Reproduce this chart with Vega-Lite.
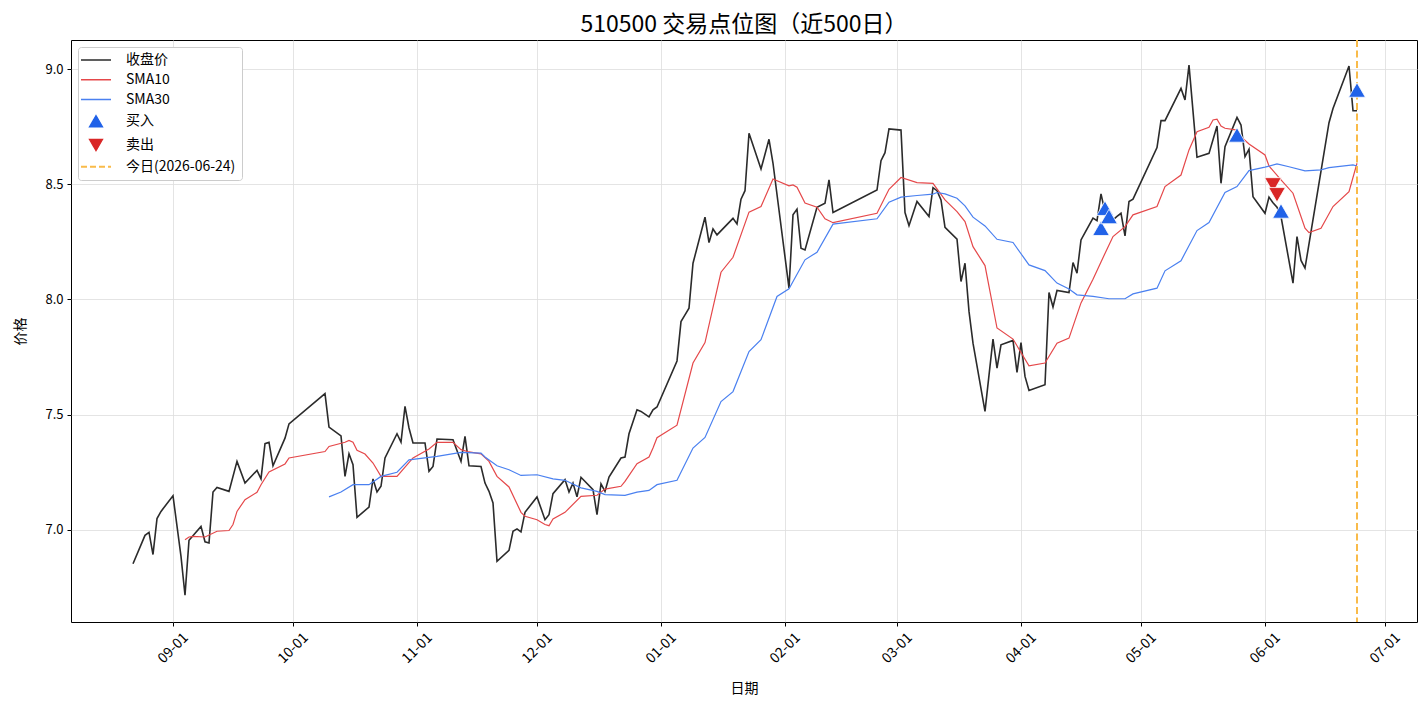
{
  "$schema": "https://vega.github.io/schema/vega-lite/v6.json",
  "width": 1346,
  "height": 582,
  "autosize": {"type": "none"},
  "padding": {"left": 71, "top": 40, "right": 11, "bottom": 84},
  "background": "white",
  "config": {
    "font": "Noto Sans CJK SC",
    "view": {"stroke": "black", "strokeWidth": 1},
    "axis": {
      "domain": false,
      "gridColor": "#dddddd",
      "gridWidth": 0.8,
      "tickColor": "black",
      "tickSize": 4,
      "labelColor": "black",
      "labelFontSize": 13,
      "titleFontSize": 14,
      "titleFontWeight": "normal",
      "titleColor": "black"
    },
    "legend": {
      "orient": "top-left",
      "offset": 7,
      "padding": 6,
      "fillColor": "white",
      "strokeColor": "#cccccc",
      "cornerRadius": 3,
      "labelFontSize": 14,
      "labelColor": "black",
      "symbolSize": 900,
      "symbolOffset": 5,
      "rowPadding": 5.75,
      "labelOffset": 23
    }
  },
  "title": {
    "text": "510500 交易点位图（近500日）",
    "fontSize": 23,
    "fontWeight": "normal",
    "color": "black",
    "frame": "group",
    "offset": 2
  },
  "datasets": {
    "close": [
      {"d":"2025-08-22","v":6.853},{"d":"2025-08-25","v":6.976},{"d":"2025-08-26","v":6.989},{"d":"2025-08-27","v":6.893},{"d":"2025-08-28","v":7.049},{"d":"2025-08-29","v":7.080},
      {"d":"2025-09-01","v":7.148},{"d":"2025-09-03","v":6.885},{"d":"2025-09-04","v":6.716},{"d":"2025-09-05","v":6.955},{"d":"2025-09-08","v":7.015},{"d":"2025-09-09","v":6.948},{"d":"2025-09-10","v":6.943},{"d":"2025-09-11","v":7.164},{"d":"2025-09-12","v":7.184},{"d":"2025-09-15","v":7.167},{"d":"2025-09-17","v":7.297},{"d":"2025-09-19","v":7.203},{"d":"2025-09-22","v":7.258},{"d":"2025-09-23","v":7.221},{"d":"2025-09-24","v":7.374},{"d":"2025-09-25","v":7.380},{"d":"2025-09-26","v":7.278},{"d":"2025-09-29","v":7.398},{"d":"2025-09-30","v":7.460},
      {"d":"2025-10-09","v":7.591},{"d":"2025-10-10","v":7.446},{"d":"2025-10-13","v":7.408},{"d":"2025-10-14","v":7.232},{"d":"2025-10-15","v":7.330},{"d":"2025-10-16","v":7.283},{"d":"2025-10-17","v":7.054},{"d":"2025-10-20","v":7.099},{"d":"2025-10-21","v":7.221},{"d":"2025-10-22","v":7.164},{"d":"2025-10-23","v":7.189},{"d":"2025-10-24","v":7.312},{"d":"2025-10-27","v":7.417},{"d":"2025-10-28","v":7.381},{"d":"2025-10-29","v":7.536},{"d":"2025-10-30","v":7.442},{"d":"2025-10-31","v":7.377},
      {"d":"2025-11-03","v":7.377},{"d":"2025-11-04","v":7.254},{"d":"2025-11-05","v":7.275},{"d":"2025-11-06","v":7.394},{"d":"2025-11-10","v":7.391},{"d":"2025-11-12","v":7.297},{"d":"2025-11-13","v":7.406},{"d":"2025-11-14","v":7.278},{"d":"2025-11-17","v":7.275},{"d":"2025-11-18","v":7.203},{"d":"2025-11-19","v":7.167},{"d":"2025-11-20","v":7.117},{"d":"2025-11-21","v":6.863},{"d":"2025-11-24","v":6.911},{"d":"2025-11-25","v":6.994},{"d":"2025-11-26","v":7.004},{"d":"2025-11-27","v":6.991},{"d":"2025-11-28","v":7.076},
      {"d":"2025-12-01","v":7.143},{"d":"2025-12-03","v":7.044},{"d":"2025-12-04","v":7.066},{"d":"2025-12-05","v":7.157},{"d":"2025-12-08","v":7.218},{"d":"2025-12-09","v":7.164},{"d":"2025-12-10","v":7.203},{"d":"2025-12-11","v":7.143},{"d":"2025-12-12","v":7.228},{"d":"2025-12-15","v":7.174},{"d":"2025-12-16","v":7.066},{"d":"2025-12-17","v":7.200},{"d":"2025-12-18","v":7.167},{"d":"2025-12-19","v":7.229},{"d":"2025-12-22","v":7.312},{"d":"2025-12-23","v":7.316},{"d":"2025-12-24","v":7.417},{"d":"2025-12-26","v":7.521},{"d":"2025-12-27","v":7.514},{"d":"2025-12-29","v":7.490},{"d":"2025-12-30","v":7.521},{"d":"2025-12-31","v":7.533},
      {"d":"2026-01-05","v":7.733},{"d":"2026-01-06","v":7.904},{"d":"2026-01-07","v":7.933},{"d":"2026-01-08","v":7.962},{"d":"2026-01-09","v":8.157},{"d":"2026-01-12","v":8.357},{"d":"2026-01-13","v":8.247},{"d":"2026-01-14","v":8.306},{"d":"2026-01-15","v":8.280},{"d":"2026-01-19","v":8.352},{"d":"2026-01-20","v":8.328},{"d":"2026-01-21","v":8.435},{"d":"2026-01-22","v":8.472},{"d":"2026-01-23","v":8.721},{"d":"2026-01-26","v":8.566},{"d":"2026-01-28","v":8.695},{"d":"2026-01-29","v":8.591},
      {"d":"2026-02-02","v":8.049},{"d":"2026-02-03","v":8.367},{"d":"2026-02-04","v":8.392},{"d":"2026-02-05","v":8.222},{"d":"2026-02-06","v":8.215},{"d":"2026-02-09","v":8.400},{"d":"2026-02-11","v":8.418},{"d":"2026-02-12","v":8.519},{"d":"2026-02-13","v":8.377},{"d":"2026-02-24","v":8.475},{"d":"2026-02-25","v":8.602},{"d":"2026-02-26","v":8.637},{"d":"2026-02-27","v":8.740},
      {"d":"2026-03-02","v":8.735},{"d":"2026-03-03","v":8.377},{"d":"2026-03-04","v":8.320},{"d":"2026-03-06","v":8.425},{"d":"2026-03-09","v":8.360},{"d":"2026-03-10","v":8.485},{"d":"2026-03-11","v":8.472},{"d":"2026-03-12","v":8.432},{"d":"2026-03-13","v":8.313},{"d":"2026-03-16","v":8.262},{"d":"2026-03-17","v":8.078},{"d":"2026-03-18","v":8.157},{"d":"2026-03-19","v":7.948},{"d":"2026-03-20","v":7.810},{"d":"2026-03-23","v":7.514},{"d":"2026-03-25","v":7.828},{"d":"2026-03-26","v":7.702},{"d":"2026-03-27","v":7.803},{"d":"2026-03-30","v":7.822},{"d":"2026-03-31","v":7.683},
      {"d":"2026-04-01","v":7.813},{"d":"2026-04-02","v":7.666},{"d":"2026-04-03","v":7.605},{"d":"2026-04-07","v":7.630},{"d":"2026-04-08","v":8.030},{"d":"2026-04-09","v":7.967},{"d":"2026-04-10","v":8.039},{"d":"2026-04-13","v":8.030},{"d":"2026-04-14","v":8.160},{"d":"2026-04-15","v":8.114},{"d":"2026-04-16","v":8.258},{"d":"2026-04-17","v":8.290},{"d":"2026-04-19","v":8.353},{"d":"2026-04-20","v":8.342},{"d":"2026-04-21","v":8.458},{"d":"2026-04-22","v":8.380},{"d":"2026-04-23","v":8.360},{"d":"2026-04-24","v":8.345},{"d":"2026-04-25","v":8.360},{"d":"2026-04-26","v":8.374},{"d":"2026-04-27","v":8.276},{"d":"2026-04-28","v":8.425},{"d":"2026-04-29","v":8.435},
      {"d":"2026-05-05","v":8.659},{"d":"2026-05-06","v":8.776},{"d":"2026-05-07","v":8.776},{"d":"2026-05-11","v":8.916},{"d":"2026-05-12","v":8.866},{"d":"2026-05-13","v":9.017},{"d":"2026-05-15","v":8.617},{"d":"2026-05-18","v":8.634},{"d":"2026-05-20","v":8.753},{"d":"2026-05-21","v":8.504},{"d":"2026-05-22","v":8.663},{"d":"2026-05-25","v":8.790},{"d":"2026-05-26","v":8.757},{"d":"2026-05-27","v":8.620},{"d":"2026-05-28","v":8.652},{"d":"2026-05-29","v":8.446},
      {"d":"2026-06-01","v":8.374},{"d":"2026-06-02","v":8.444},{"d":"2026-06-03","v":8.420},{"d":"2026-06-04","v":8.400},{"d":"2026-06-05","v":8.360},{"d":"2026-06-08","v":8.071},{"d":"2026-06-09","v":8.273},{"d":"2026-06-10","v":8.169},{"d":"2026-06-11","v":8.136},{"d":"2026-06-17","v":8.767},{"d":"2026-06-18","v":8.829},{"d":"2026-06-22","v":9.013},{"d":"2026-06-23","v":8.819},{"d":"2026-06-24","v":8.819}
    ],
    "sma10": [
      {"d":"2025-09-04","v":6.957},{"d":"2025-09-05","v":6.969},{"d":"2025-09-06","v":6.972},{"d":"2025-09-09","v":6.969},{"d":"2025-09-12","v":6.994},{"d":"2025-09-15","v":6.997},{"d":"2025-09-16","v":7.023},{"d":"2025-09-17","v":7.080},{"d":"2025-09-19","v":7.131},{"d":"2025-09-22","v":7.163},{"d":"2025-09-23","v":7.196},{"d":"2025-09-25","v":7.251},{"d":"2025-09-29","v":7.286},{"d":"2025-09-30","v":7.312},
      {"d":"2025-10-09","v":7.340},{"d":"2025-10-10","v":7.362},{"d":"2025-10-14","v":7.380},{"d":"2025-10-15","v":7.388},{"d":"2025-10-16","v":7.380},{"d":"2025-10-17","v":7.345},{"d":"2025-10-19","v":7.329},{"d":"2025-10-21","v":7.290},{"d":"2025-10-23","v":7.232},{"d":"2025-10-27","v":7.232},{"d":"2025-10-31","v":7.312},
      {"d":"2025-11-04","v":7.351},{"d":"2025-11-06","v":7.380},{"d":"2025-11-10","v":7.380},{"d":"2025-11-12","v":7.348},{"d":"2025-11-14","v":7.338},{"d":"2025-11-17","v":7.330},{"d":"2025-11-19","v":7.297},{"d":"2025-11-21","v":7.232},{"d":"2025-11-24","v":7.186},{"d":"2025-11-27","v":7.076},{"d":"2025-11-28","v":7.059},
      {"d":"2025-12-01","v":7.044},{"d":"2025-12-03","v":7.023},{"d":"2025-12-04","v":7.018},{"d":"2025-12-05","v":7.047},{"d":"2025-12-08","v":7.076},{"d":"2025-12-12","v":7.145},{"d":"2025-12-16","v":7.150},{"d":"2025-12-18","v":7.177},{"d":"2025-12-22","v":7.189},{"d":"2025-12-23","v":7.210},{"d":"2025-12-26","v":7.287},{"d":"2025-12-29","v":7.316},{"d":"2025-12-30","v":7.355},{"d":"2025-12-31","v":7.400},
      {"d":"2026-01-05","v":7.454},{"d":"2026-01-09","v":7.724},{"d":"2026-01-12","v":7.813},{"d":"2026-01-16","v":8.118},{"d":"2026-01-19","v":8.183},{"d":"2026-01-23","v":8.379},{"d":"2026-01-26","v":8.403},{"d":"2026-01-29","v":8.523},
      {"d":"2026-02-02","v":8.493},{"d":"2026-02-03","v":8.497},{"d":"2026-02-04","v":8.487},{"d":"2026-02-06","v":8.418},{"d":"2026-02-09","v":8.400},{"d":"2026-02-11","v":8.350},{"d":"2026-02-13","v":8.333},{"d":"2026-02-24","v":8.374},{"d":"2026-02-27","v":8.478},
      {"d":"2026-03-02","v":8.529},{"d":"2026-03-06","v":8.507},{"d":"2026-03-10","v":8.504},{"d":"2026-03-13","v":8.432},{"d":"2026-03-16","v":8.381},{"d":"2026-03-18","v":8.338},{"d":"2026-03-20","v":8.229},{"d":"2026-03-23","v":8.147},{"d":"2026-03-26","v":7.876},{"d":"2026-03-30","v":7.828},
      {"d":"2026-04-03","v":7.712},{"d":"2026-04-07","v":7.724},{"d":"2026-04-10","v":7.810},{"d":"2026-04-13","v":7.832},{"d":"2026-04-16","v":7.985},{"d":"2026-04-19","v":8.088},{"d":"2026-04-21","v":8.163},{"d":"2026-04-24","v":8.273},{"d":"2026-04-27","v":8.316},{"d":"2026-04-29","v":8.367},
      {"d":"2026-05-05","v":8.403},{"d":"2026-05-07","v":8.490},{"d":"2026-05-11","v":8.540},{"d":"2026-05-13","v":8.649},{"d":"2026-05-15","v":8.728},{"d":"2026-05-18","v":8.747},{"d":"2026-05-19","v":8.779},{"d":"2026-05-20","v":8.782},{"d":"2026-05-21","v":8.753},{"d":"2026-05-22","v":8.743},{"d":"2026-05-25","v":8.735},{"d":"2026-05-26","v":8.706},{"d":"2026-05-28","v":8.675},
      {"d":"2026-06-01","v":8.627},{"d":"2026-06-02","v":8.579},{"d":"2026-06-05","v":8.519},{"d":"2026-06-08","v":8.461},{"d":"2026-06-11","v":8.309},{"d":"2026-06-12","v":8.290},{"d":"2026-06-15","v":8.309},{"d":"2026-06-18","v":8.403},{"d":"2026-06-22","v":8.468},{"d":"2026-06-24","v":8.591}
    ],
    "sma30": [
      {"d":"2025-10-10","v":7.143},{"d":"2025-10-13","v":7.164},{"d":"2025-10-16","v":7.196},{"d":"2025-10-20","v":7.196},{"d":"2025-10-23","v":7.232},{"d":"2025-10-27","v":7.250},{"d":"2025-10-30","v":7.304},
      {"d":"2025-11-06","v":7.319},{"d":"2025-11-12","v":7.336},{"d":"2025-11-17","v":7.333},{"d":"2025-11-18","v":7.316},{"d":"2025-11-21","v":7.278},{"d":"2025-11-24","v":7.261},{"d":"2025-11-27","v":7.236},
      {"d":"2025-12-01","v":7.239},{"d":"2025-12-05","v":7.221},{"d":"2025-12-08","v":7.215},{"d":"2025-12-12","v":7.182},{"d":"2025-12-16","v":7.167},{"d":"2025-12-18","v":7.153},{"d":"2025-12-23","v":7.150},{"d":"2025-12-26","v":7.164},{"d":"2025-12-29","v":7.171},{"d":"2025-12-31","v":7.196},
      {"d":"2026-01-05","v":7.215},{"d":"2026-01-09","v":7.355},{"d":"2026-01-12","v":7.401},{"d":"2026-01-16","v":7.557},{"d":"2026-01-19","v":7.600},{"d":"2026-01-23","v":7.774},{"d":"2026-01-26","v":7.825},{"d":"2026-01-30","v":8.013},
      {"d":"2026-02-02","v":8.046},{"d":"2026-02-06","v":8.172},{"d":"2026-02-09","v":8.205},{"d":"2026-02-13","v":8.327},{"d":"2026-02-24","v":8.350},{"d":"2026-02-27","v":8.422},
      {"d":"2026-03-02","v":8.444},{"d":"2026-03-06","v":8.451},{"d":"2026-03-10","v":8.457},{"d":"2026-03-11","v":8.464},{"d":"2026-03-13","v":8.458},{"d":"2026-03-16","v":8.439},{"d":"2026-03-18","v":8.406},{"d":"2026-03-20","v":8.357},{"d":"2026-03-23","v":8.319},{"d":"2026-03-26","v":8.261},{"d":"2026-03-30","v":8.247},
      {"d":"2026-04-03","v":8.150},{"d":"2026-04-07","v":8.125},{"d":"2026-04-10","v":8.071},{"d":"2026-04-13","v":8.045},{"d":"2026-04-15","v":8.020},{"d":"2026-04-19","v":8.013},{"d":"2026-04-23","v":8.003},{"d":"2026-04-27","v":8.003},{"d":"2026-04-29","v":8.024},
      {"d":"2026-05-05","v":8.049},{"d":"2026-05-07","v":8.124},{"d":"2026-05-11","v":8.168},{"d":"2026-05-15","v":8.299},{"d":"2026-05-18","v":8.334},{"d":"2026-05-22","v":8.464},{"d":"2026-05-25","v":8.490},{"d":"2026-05-28","v":8.559},
      {"d":"2026-06-01","v":8.574},{"d":"2026-06-04","v":8.588},{"d":"2026-06-07","v":8.576},{"d":"2026-06-11","v":8.558},{"d":"2026-06-15","v":8.562},{"d":"2026-06-17","v":8.572},{"d":"2026-06-23","v":8.584},{"d":"2026-06-24","v":8.579}
    ],
    "buy": [
      {"d":"2026-04-21","v":8.309},{"d":"2026-04-22","v":8.396},{"d":"2026-04-23","v":8.360},{"d":"2026-05-25","v":8.714},{"d":"2026-06-05","v":8.384},{"d":"2026-06-24","v":8.909}
    ],
    "sell": [
      {"d":"2026-06-03","v":8.497},{"d":"2026-06-04","v":8.454}
    ],
    "today": [
      {"d":"2026-06-24"}
    ]
  },
  "encoding": {
    "x": {
      "field": "d",
      "type": "temporal",
      "scale": {
        "type": "utc",
        "domain": [
          {"year": 2025, "month": 8, "date": 6, "hours": 12, "utc": true},
          {"year": 2026, "month": 7, "date": 9, "utc": true}
        ]
      },
      "axis": {
        "title": "日期",
        "labelExpr": "utcFormat(datum.value, '%m-%d')",
        "values": [
          {"year": 2025, "month": 9, "date": 1, "utc": true},
          {"year": 2025, "month": 10, "date": 1, "utc": true},
          {"year": 2025, "month": 11, "date": 1, "utc": true},
          {"year": 2025, "month": 12, "date": 1, "utc": true},
          {"year": 2026, "month": 1, "date": 1, "utc": true},
          {"year": 2026, "month": 2, "date": 1, "utc": true},
          {"year": 2026, "month": 3, "date": 1, "utc": true},
          {"year": 2026, "month": 4, "date": 1, "utc": true},
          {"year": 2026, "month": 5, "date": 1, "utc": true},
          {"year": 2026, "month": 6, "date": 1, "utc": true},
          {"year": 2026, "month": 7, "date": 1, "utc": true}
        ],
        "labelFontSize": 14,
        "labelAngle": -45,
        "labelAlign": "center",
        "labelBaseline": "middle",
        "labelPadding": 22,
        "labelOverlap": false,
        "titlePadding": 16
      }
    }
  },
  "layer": [
    {
      "data": {"name": "close"},
      "mark": {"type": "line", "strokeWidth": 1.6},
      "encoding": {
        "y": {
          "field": "v",
          "type": "quantitative",
          "scale": {"domain": [6.6, 9.126], "nice": false, "zero": false},
          "axis": {"title": "价格", "values": [7, 7.5, 8, 8.5, 9], "format": ".1f", "labelPadding": 4, "titlePadding": 17}
        },
        "color": {
          "datum": "收盘价",
          "scale": {
            "domain": ["收盘价", "SMA10", "SMA30", "买入", "卖出", "今日(2026-06-24)"],
            "range": ["#2b2b2b", "#e5484a", "#4a80f0", "#2162e8", "#d92626", "#f9bb4a"]
          },
          "legend": {
            "title": null,
            "encode": {
              "symbols": {
                "update": {
                  "shape": {"signal": "datum.value === '买入' ? 'triangle-up' : (datum.value === '卖出' ? 'triangle-down' : 'stroke')"},
                  "size": {"signal": "(datum.value === '买入' || datum.value === '卖出') ? 170 : 900"},
                  "fill": {"signal": "(datum.value === '买入' || datum.value === '卖出') ? scale('color', datum.value) : 'transparent'"},
                  "stroke": {"signal": "(datum.value === '买入' || datum.value === '卖出') ? 'transparent' : scale('color', datum.value)"},
                  "strokeWidth": {"signal": "datum.value === '收盘价' ? 1.6 : (datum.value === '今日(2026-06-24)' ? 2 : 1.3)"},
                  "strokeDash": {"signal": "datum.value === '今日(2026-06-24)' ? [6, 3] : [1, 0]"},
                  "opacity": {"value": 1}
                }
              }
            }
          }
        }
      }
    },
    {
      "data": {"name": "sma10"},
      "mark": {"type": "line", "strokeWidth": 1.2},
      "encoding": {
        "y": {"field": "v", "type": "quantitative"},
        "color": {"datum": "SMA10"}
      }
    },
    {
      "data": {"name": "sma30"},
      "mark": {"type": "line", "strokeWidth": 1.2},
      "encoding": {
        "y": {"field": "v", "type": "quantitative"},
        "color": {"datum": "SMA30"}
      }
    },
    {
      "data": {"name": "today"},
      "mark": {"type": "rule", "strokeWidth": 2, "strokeDash": [7, 3.5]},
      "encoding": {
        "color": {"datum": "今日(2026-06-24)"}
      }
    },
    {
      "data": {"name": "buy"},
      "mark": {"type": "point", "shape": "triangle-up", "filled": true, "size": 280, "opacity": 1, "stroke": "white", "strokeWidth": 0.8},
      "encoding": {
        "y": {"field": "v", "type": "quantitative"},
        "color": {"datum": "买入"}
      }
    },
    {
      "data": {"name": "sell"},
      "mark": {"type": "point", "shape": "triangle-down", "filled": true, "size": 280, "opacity": 1, "stroke": "white", "strokeWidth": 0.8},
      "encoding": {
        "y": {"field": "v", "type": "quantitative"},
        "color": {"datum": "卖出"}
      }
    }
  ]
}
